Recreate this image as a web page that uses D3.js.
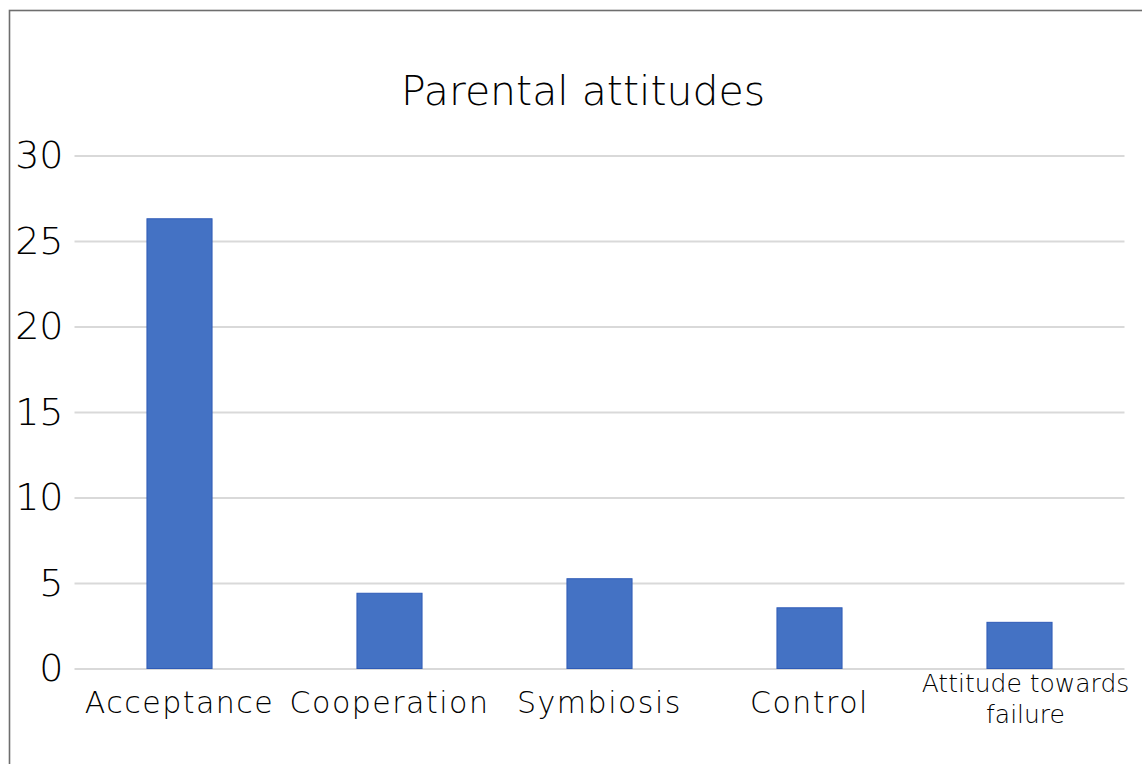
<!DOCTYPE html>
<html>
<head>
<meta charset="utf-8">
<script src="https://cdn.jsdelivr.net/npm/d3@7"></script>
<style>
  html, body { margin: 0; padding: 0; background: #fff; }
  svg { display: block; }
  text { font-family: "DejaVu Sans", sans-serif; fill: #000; font-weight: 200; }
</style>
</head>
<body>
<svg id="chart" width="1142" height="764"></svg>
<script>
const categories = ["Acceptance", "Cooperation", "Symbiosis", "Control", "Attitude towards failure"];
const values = [26.3, 4.4, 5.25, 3.55, 2.7];
const yTicks = [0, 5, 10, 15, 20, 25, 30];
const title = "Parental attitudes";

const W = 1142, H = 764;
const svg = d3.select("#chart");

// chart frame (left and top edges visible)
svg.append("rect")
  .attr("x", 9.5).attr("y", 10.5)
  .attr("width", W + 40).attr("height", H + 40)
  .attr("fill", "#fff").attr("stroke", "#6e6e6e").attr("stroke-width", 1.6);

const plot = { left: 74.5, right: 1124.5, top: 155.5, bottom: 668.5 };

const x = d3.scaleBand()
  .domain(categories)
  .range([plot.left, plot.right])
  .paddingInner(0.69)
  .paddingOuter(0.345);

const y = d3.scaleLinear()
  .domain([0, 30])
  .range([plot.bottom, plot.top]);

// gridlines
const grid = svg.append("g")
  .attr("transform", `translate(${plot.left},0)`)
  .call(d3.axisLeft(y).tickValues(yTicks).tickSize(-(plot.right - plot.left)).tickFormat(""));
grid.select(".domain").remove();
grid.selectAll(".tick line").attr("stroke", "#d9d9d9").attr("stroke-width", 2);

// y tick labels
const yAxis = svg.append("g")
  .attr("transform", `translate(${plot.left},0)`)
  .call(d3.axisLeft(y).tickValues(yTicks).tickSize(0).tickPadding(11).tickFormat(d3.format("d")));
yAxis.select(".domain").remove();
yAxis.selectAll(".tick text")
  .attr("font-size", 38)
  .attr("fill", "#000")
  .style("font-family", "'DejaVu Sans', sans-serif")
  .style("font-weight", 200);

// bars
svg.append("g").selectAll("rect")
  .data(categories.map((c, i) => ({ c, v: values[i] })))
  .join("rect")
  .attr("x", d => x(d.c))
  .attr("y", d => y(d.v))
  .attr("width", x.bandwidth())
  .attr("height", d => y(0) - y(d.v))
  .attr("fill", "#4472c4")
  .attr("stroke", "#2f5bb7")
  .attr("stroke-width", 1);

// x labels
const xl = svg.append("g");
categories.forEach(c => {
  const cx = x(c) + x.bandwidth() / 2;
  const t = xl.append("text")
    .attr("x", cx).attr("y", 713)
    .attr("text-anchor", "middle")
    .attr("font-size", 30)
    .attr("letter-spacing", 1.5)
    .text(c);
  const w = t.node().getComputedTextLength();
  if (w > x.step() - 10) {
    // wrap into two lines with smaller font
    t.remove();
    const words = c.split(" ");
    const lines = [words.slice(0, words.length - 1).join(" "), words[words.length - 1]];
    const tt = xl.append("text")
      .attr("x", cx + 6).attr("y", 692)
      .attr("text-anchor", "middle")
      .attr("font-size", 25);
    lines.forEach((ln, i) => {
      tt.append("tspan").attr("x", cx + 6).attr("dy", i === 0 ? 0 : 31).text(ln);
    });
  }
});

// title
svg.append("text")
  .attr("x", 583).attr("y", 105)
  .attr("text-anchor", "middle")
  .attr("font-size", 41)
  .text(title);
</script>
</body>
</html>
